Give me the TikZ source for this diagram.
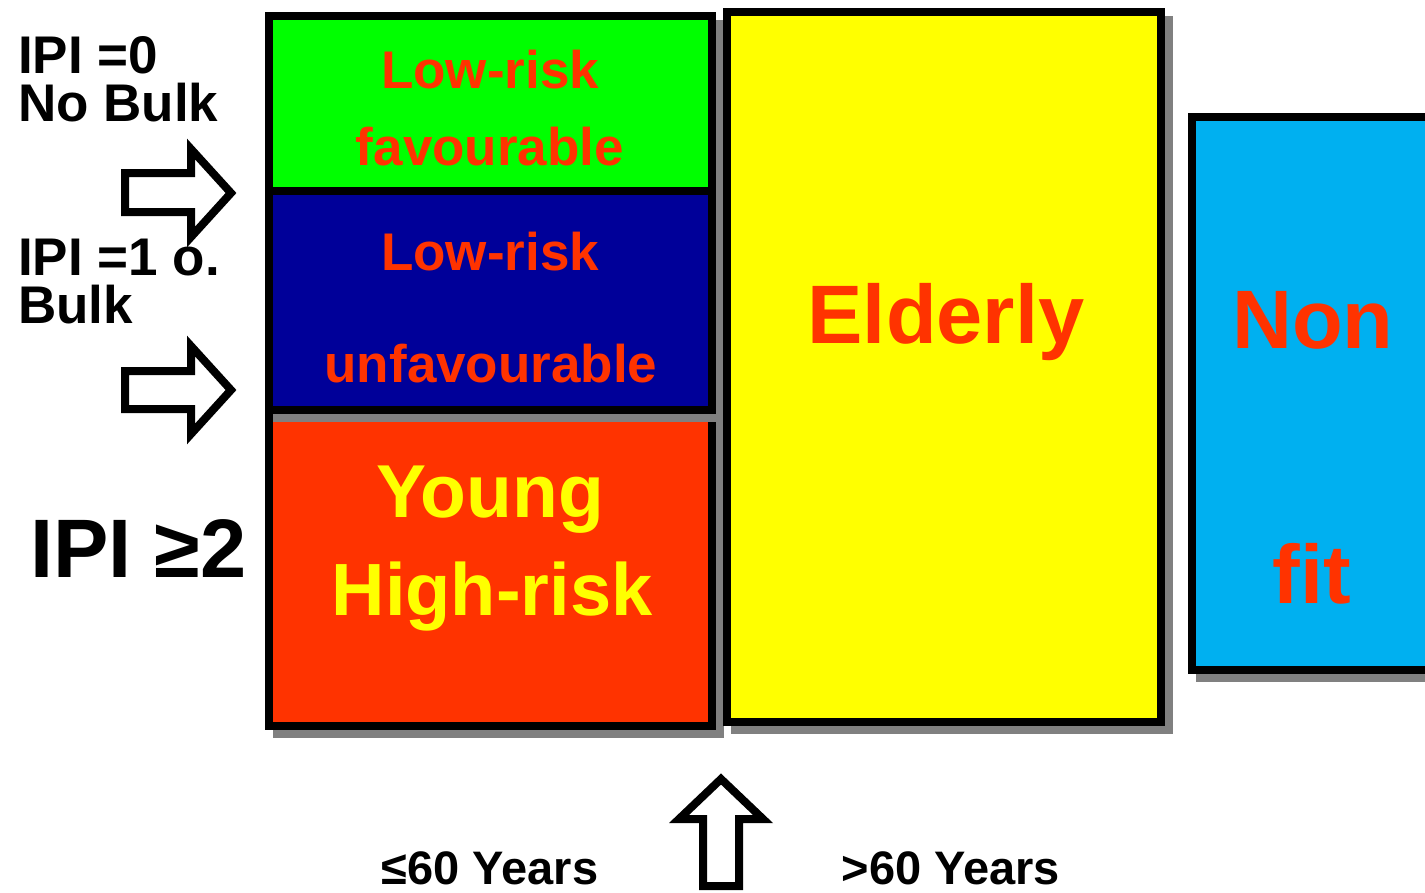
\documentclass[tikz,border=0pt]{standalone}
\usepackage{fontspec}
\setmainfont{Liberation Sans}
\definecolor{cgreen}{RGB}{0,255,0}
\definecolor{cnavy}{RGB}{0,0,153}
\definecolor{cred}{RGB}{255,51,0}
\definecolor{cyel}{RGB}{255,255,0}
\definecolor{ccyan}{RGB}{0,176,240}
\definecolor{cshadow}{RGB}{128,128,128}
\newcommand\fsz[1]{\fontsize{#1}{#1}\selectfont\bfseries}
\begin{document}
\begin{tikzpicture}[x=1pt,y=-1pt,
  cell/.style={draw=black, line width=8pt, inner sep=0pt, outer sep=0pt},
  shade/.style={fill=cshadow},
  lbl/.style={anchor=base, inner sep=0pt, text=cred, font=\fsz{53}},
  side/.style={anchor=base west, inner sep=0pt, text=black, font=\fsz{53}},
  bigarrow/.style={draw=black, fill=white, line width=8pt, line join=miter}]
\useasboundingbox (0,0) rectangle (1425,892);
\clip (0,0) rectangle (1425,892);

% red box (young high-risk)
\fill[shade] (273,422) rectangle (724,738);
\node[cell, fill=cred, minimum width=443pt, minimum height=308pt] (young) at (490.5,572) {};
% upper box shadow
\fill[shade] (273,20) rectangle (724,422);
\node[cell, fill=cgreen, minimum width=443pt, minimum height=175pt] (fav) at (490.5,103.5) {};
\node[cell, fill=cnavy, minimum width=443pt, minimum height=219pt] (unfav) at (490.5,300.5) {};

% yellow box
\fill[shade] (731,16) rectangle (1173,734);
\node[cell, fill=cyel, minimum width=434pt, minimum height=710pt] (elderly) at (944,367) {};

% cyan box
\fill[shade] (1196,121) rectangle (1460,682);
\node[cell, fill=ccyan, minimum width=260pt, minimum height=553pt] (nonfit) at (1322,393.5) {};

% box texts
\node[lbl] (t1) at (490,88) {Low-risk};
\node[lbl] (t2) at (490,165) {favourable};
\node[lbl] (t3) at (490,270) {Low-risk};
\node[lbl] (t4) at (491,382) {unfavourable};
\node[lbl, text=cyel, font=\fsz{75}] (t5) at (490,517) {Young};
\node[lbl, text=cyel, font=\fsz{74}] (t6) at (492,615) {High-risk};
\node[lbl, font=\fsz{83}] (t7) at (946,343) {Elderly};
\node[lbl, font=\fsz{83}] (t8) at (1313,348) {Non};
\node[lbl, font=\fsz{83}] (t9) at (1312,603) {fit};

% side labels
\node[side] (s1) at (18,73) {IPI =0};
\node[side] (s2) at (18,121) {No Bulk};
\node[side] (s3) at (18,275) {IPI =1 o.};
\node[side] (s4) at (18,323) {Bulk};
\node[side, font=\fsz{83}] (s5) at (30,577) {IPI ≥2};

% bottom labels
\node[lbl, text=black, font=\fsz{47}] (b1) at (490,884) {≤60 Years};
\node[lbl, text=black, font=\fsz{47}] (b2) at (951,884) {>60 Years};

% arrows
\draw[bigarrow] (125,173) -- (191,173) -- (191,149) -- (231,193) -- (191,237) -- (191,212) -- (125,212) -- cycle;
\draw[bigarrow] (125,371) -- (191,371) -- (191,346) -- (231,390) -- (191,434) -- (191,409) -- (125,409) -- cycle;
\draw[bigarrow] (703,886) -- (703,819) -- (679,819) -- (721,779) -- (763,819) -- (739,819) -- (739,886) -- cycle;
\end{tikzpicture}
\end{document}
